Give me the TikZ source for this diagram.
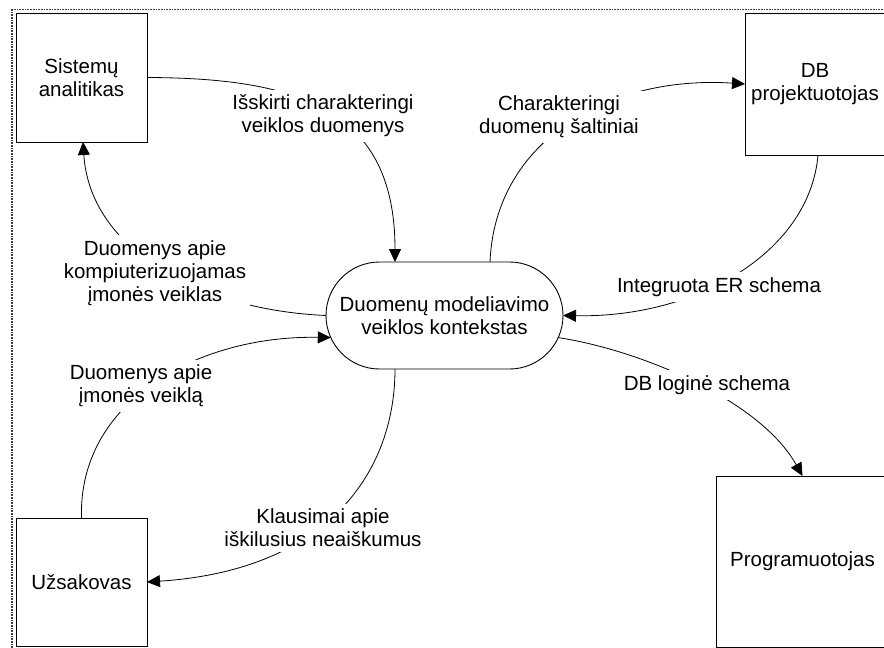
\documentclass[tikz,border=0pt]{standalone}
\usepackage{fontspec}
\setmainfont{Liberation Sans}
\usetikzlibrary{arrows.meta,shapes.misc}
\begin{document}
\begin{tikzpicture}[x=1pt,y=-1pt,
  font=\fontsize{20.5pt}{23pt}\selectfont,
  actor/.style={draw=black,line width=1pt,inner sep=0pt,outer sep=0pt,align=center},
  process/.style={draw=black,line width=0.9pt,rounded rectangle,minimum width=237pt,
    minimum height=107pt,inner sep=0pt,outer sep=0pt,align=center},
  flow/.style={line width=0.8pt,-{Triangle[length=13pt,width=12pt]}},
  flowlabel/.style={fill=white,align=center,inner xsep=4pt,inner ysep=5pt},
  frame/.style={dash pattern=on 0.8pt off 0.8pt,black!75}
]
\useasboundingbox (0,0) rectangle (884,648);

% dotted page frame
\draw[frame,line width=2pt] (11.5,648) -- (11.5,9);
\draw[frame,line width=1pt] (10.5,9) -- (884,9);

% external entities and the central process
\node[actor,minimum width=131pt,minimum height=129pt] (sa) at (81.5,77.5) {Sistemų\\analitikas};
\node[actor,minimum width=140pt,minimum height=142pt] (dbp) at (815,84) {DB\\projektuotojas};
\node[actor,minimum width=173pt,minimum height=171pt] (prog) at (802.5,561.5) {Programuotojas};
\node[actor,minimum width=131pt,minimum height=128pt] (uz) at (81.5,582) {Užsakovas};
\node[process] (ctx) at (444.5,315.5) {Duomenų modeliavimo\\veiklos kontekstas};

% data flows
\draw[flow] (sa.east) .. controls (300,78) and (395,110) .. ([xshift=-49.5pt]ctx.north);
\draw[flow] ([xshift=45.5pt]ctx.north) .. controls (495,140) and (610,75) .. (dbp.west);
\draw[flow] ([xshift=3pt]dbp.south) .. controls (810,250) and (700,318) .. (ctx.east);
\draw[flow] (ctx.-11) .. controls (640,350) and (760,400) .. (prog.north);
\draw[flow] ([xshift=-49.5pt]ctx.south) .. controls (395,470) and (330,570) .. (uz.east);
\draw[flow] (uz.north) .. controls (78,400) and (200,335) .. (ctx.191);
\draw[flow] (ctx.west) .. controls (200,310) and (90,250) .. ([xshift=1.5pt]sa.south);

% flow labels, laid over the lines
\node[flowlabel] (lA) at (323,116) {Išskirti charakteringi\\veiklos duomenys};
\node[flowlabel] (lB) at (559,117) {Charakteringi\\duomenų šaltiniai};
\node[flowlabel] (lC) at (719,287) {Integruota ER schema};
\node[flowlabel] (lD) at (707,385) {DB loginė schema};
\node[flowlabel] (lE) at (323,528) {Klausimai apie\\iškilusius neaiškumus};
\node[flowlabel] (lF) at (141,386) {Duomenys apie\\įmonės veiklą};
\node[flowlabel] (lG) at (155,273) {Duomenys apie\\kompiuterizuojamas\\įmonės veiklas};
\end{tikzpicture}
\end{document}
